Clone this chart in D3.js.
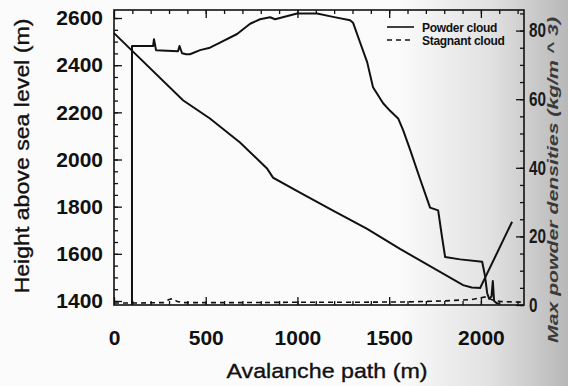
<!DOCTYPE html>
<html>
<head>
<meta charset="utf-8">
<script src="https://cdn.jsdelivr.net/npm/d3@7"></script>
<style>
  body { margin: 0; background: #fff; }
  svg { display: block; font-family: "Liberation Sans", Arial, Helvetica, sans-serif; }
</style>
</head>
<body>
<svg id="chart" width="568" height="386"></svg>
<script>
// values
const terrainX = [0, 376, 523, 687, 834, 867, 1014, 1194, 1380, 1559, 1903, 1950, 1996, 2170];
const terrainH = [2536, 2251, 2174, 2072, 1962, 1923, 1860, 1783, 1706, 1621, 1467, 1457, 1455, 1736];

const powderX = [98, 98, 213, 218, 229, 349, 357, 371, 393, 414, 469, 523, 578, 671, 742, 796, 851, 878,
  998, 1107, 1194, 1287, 1303, 1341, 1380, 1412, 1467, 1505, 1549, 1576, 1614, 1668, 1723, 1767, 1788,
  1805, 1887, 2007, 2023, 2034, 2045, 2058, 2065, 2072, 2085, 2100];
const powderD = [0, 75.5, 75.5, 77.5, 74.3, 74.0, 75.5, 73.4, 73.1, 73.1, 74.3, 75.0, 76.5, 79.0, 82.0, 83.3, 83.9, 83.3,
  85.0, 85.0, 84.0, 83.0, 82.3, 76.6, 70.8, 63.5, 58.8, 56.6, 54.4, 51.0, 45.3, 36.8, 28.4, 27.6, 19.9,
  14.0, 13.3, 12.6, 8.3, 3.5, 1.8, 2.5, 7.0, 1.2, 0.6, 0.4];

const stagnantX = [0, 150, 270, 300, 320, 345, 380, 700, 1000, 1300, 1600, 1800, 1950, 2030, 2060, 2110, 2235];
const stagnantD = [0.6, 0.6, 0.7, 1.6, 1.9, 1.0, 0.7, 0.7, 0.8, 0.8, 0.9, 1.2, 1.6, 2.4, 1.5, 1.0, 0.8];

const xTicks = [0, 500, 1000, 1500, 2000];
const hTicks = [1400, 1600, 1800, 2000, 2200, 2400, 2600];
const dTicks = [0, 20, 40, 60, 80];
const legendLabels = ["Powder cloud", "Stagnant cloud"];

const width = 568, height = 386;
const margin = { top: 10, right: 44, bottom: 81, left: 114 };
const L = margin.left, R = width - margin.right, T = margin.top, B = height - margin.bottom;

const svg = d3.select("#chart");

// scanned page shading on the right
const grad = svg.append("defs").append("linearGradient").attr("id", "shade");
grad.append("stop").attr("offset", "0.7").attr("stop-color", "#fbfbfb");
grad.append("stop").attr("offset", "0.86").attr("stop-color", "#e2e2e2");
grad.append("stop").attr("offset", "1").attr("stop-color", "#b8b8b8");
svg.append("rect").attr("width", width).attr("height", height).attr("fill", "url(#shade)");

const x = d3.scaleLinear().domain([0, 2235]).range([L, R]);
const yH = d3.scaleLinear().domain([1383, 2634]).range([B, T]);
const yD = d3.scaleLinear().domain([0, 86]).range([B, T]);

function styleAxis(g) {
  g.select(".domain").remove();
  g.selectAll(".tick line").attr("stroke", "#111").attr("stroke-width", 1.3);
}

// minor ticks
svg.append("g").attr("transform", `translate(${L},0)`)
  .call(d3.axisLeft(yH).tickValues(d3.range(1400, 2634, 50)).tickSize(-4).tickFormat(""))
  .call(styleAxis);
svg.append("g").attr("transform", `translate(${R},0)`)
  .call(d3.axisRight(yD).tickValues(d3.range(0, 86, 5)).tickSize(-4).tickFormat(""))
  .call(styleAxis);
svg.append("g").attr("transform", `translate(0,${T})`)
  .call(d3.axisTop(x).tickValues(d3.range(100, 2235, 100)).tickSize(-4).tickFormat(""))
  .call(styleAxis);
svg.append("g").attr("transform", `translate(0,${B})`)
  .call(d3.axisBottom(x).tickValues(d3.range(100, 2235, 100)).tickSize(-4).tickFormat(""))
  .call(styleAxis);

// major ticks + labels
svg.append("g").attr("transform", `translate(${L},0)`)
  .call(d3.axisLeft(yH).tickValues(hTicks).tickSize(-8).tickPadding(11).tickFormat(d3.format("d")))
  .call(styleAxis)
  .selectAll("text").attr("font-size", 21).attr("font-weight", "bold").attr("fill", "#111");

svg.append("g").attr("transform", `translate(0,${B})`)
  .call(d3.axisBottom(x).tickValues(xTicks).tickSize(-8).tickPadding(25).tickFormat(d3.format("d")))
  .call(styleAxis)
  .selectAll("text").attr("font-size", 21).attr("font-weight", "bold").attr("fill", "#111");

svg.append("g").attr("transform", `translate(0,${T})`)
  .call(d3.axisTop(x).tickValues(xTicks).tickSize(-8).tickFormat(""))
  .call(styleAxis);

svg.append("g").attr("transform", `translate(${R},0)`)
  .call(d3.axisRight(yD).tickValues(dTicks).tickSize(-8).tickPadding(5).tickFormat(d3.format("d")))
  .call(styleAxis)
  .selectAll("text").attr("font-size", 20).attr("font-weight", "bold").attr("fill", "#1a1a1a")
  .attr("textLength", d => String(d).length * 8.5).attr("lengthAdjust", "spacingAndGlyphs");

// frame
svg.append("rect").attr("x", L).attr("y", T).attr("width", R - L).attr("height", B - T)
  .attr("fill", "none").attr("stroke", "#111").attr("stroke-width", 1.6);

const plot = svg.append("g");

plot.append("path")
  .datum(terrainX.map((v, i) => [v, terrainH[i]]))
  .attr("fill", "none").attr("stroke", "#111").attr("stroke-width", 2)
  .attr("d", d3.line().x(d => x(d[0])).y(d => yH(d[1])));

plot.append("path")
  .datum(powderX.map((v, i) => [v, powderD[i]]))
  .attr("fill", "none").attr("stroke", "#111").attr("stroke-width", 2).attr("stroke-linejoin", "round")
  .attr("d", d3.line().x(d => x(d[0])).y(d => yD(d[1])));

plot.append("path")
  .datum(stagnantX.map((v, i) => [v, stagnantD[i]]))
  .attr("fill", "none").attr("stroke", "#111").attr("stroke-width", 1.6).attr("stroke-dasharray", "5,4")
  .attr("d", d3.line().x(d => x(d[0])).y(d => yD(d[1])));

// legend
const legend = svg.append("g").attr("transform", "translate(387,27)");
legendLabels.forEach((lab, i) => {
  const row = legend.append("g").attr("transform", `translate(0,${i * 13})`);
  row.append("line").attr("x1", 0).attr("x2", 27).attr("y1", 0).attr("y2", 0)
    .attr("stroke", "#111").attr("stroke-width", 1.6)
    .attr("stroke-dasharray", i === 1 ? "5,4" : null);
  row.append("text").attr("x", 35).attr("y", 5).attr("font-size", 12).attr("font-weight", "bold")
    .attr("fill", "#111").attr("letter-spacing", -0.3).text(lab);
});

// axis titles
svg.append("text").attr("x", 327).attr("y", 378).attr("text-anchor", "middle")
  .attr("font-size", 21).attr("fill", "#111").attr("stroke", "#111").attr("stroke-width", 0.35)
  .attr("textLength", 201).attr("lengthAdjust", "spacingAndGlyphs")
  .text("Avalanche path (m)");

svg.append("text").attr("transform", "translate(22,156) rotate(-90)").attr("dy", "0.35em")
  .attr("text-anchor", "middle").attr("font-size", 20).attr("fill", "#111")
  .attr("stroke", "#111").attr("stroke-width", 0.35)
  .attr("textLength", 275).attr("lengthAdjust", "spacingAndGlyphs")
  .text("Height above sea level (m)");

svg.append("text").attr("transform", "translate(553,180) rotate(-90)").attr("dy", "0.35em")
  .attr("text-anchor", "middle").attr("font-size", 14).attr("font-weight", "bold").attr("font-style", "italic")
  .attr("fill", "#3a3a3a").attr("textLength", 326).attr("lengthAdjust", "spacingAndGlyphs")
  .text("Max powder densities (kg/m ^ 3)");
</script>
</body>
</html>
